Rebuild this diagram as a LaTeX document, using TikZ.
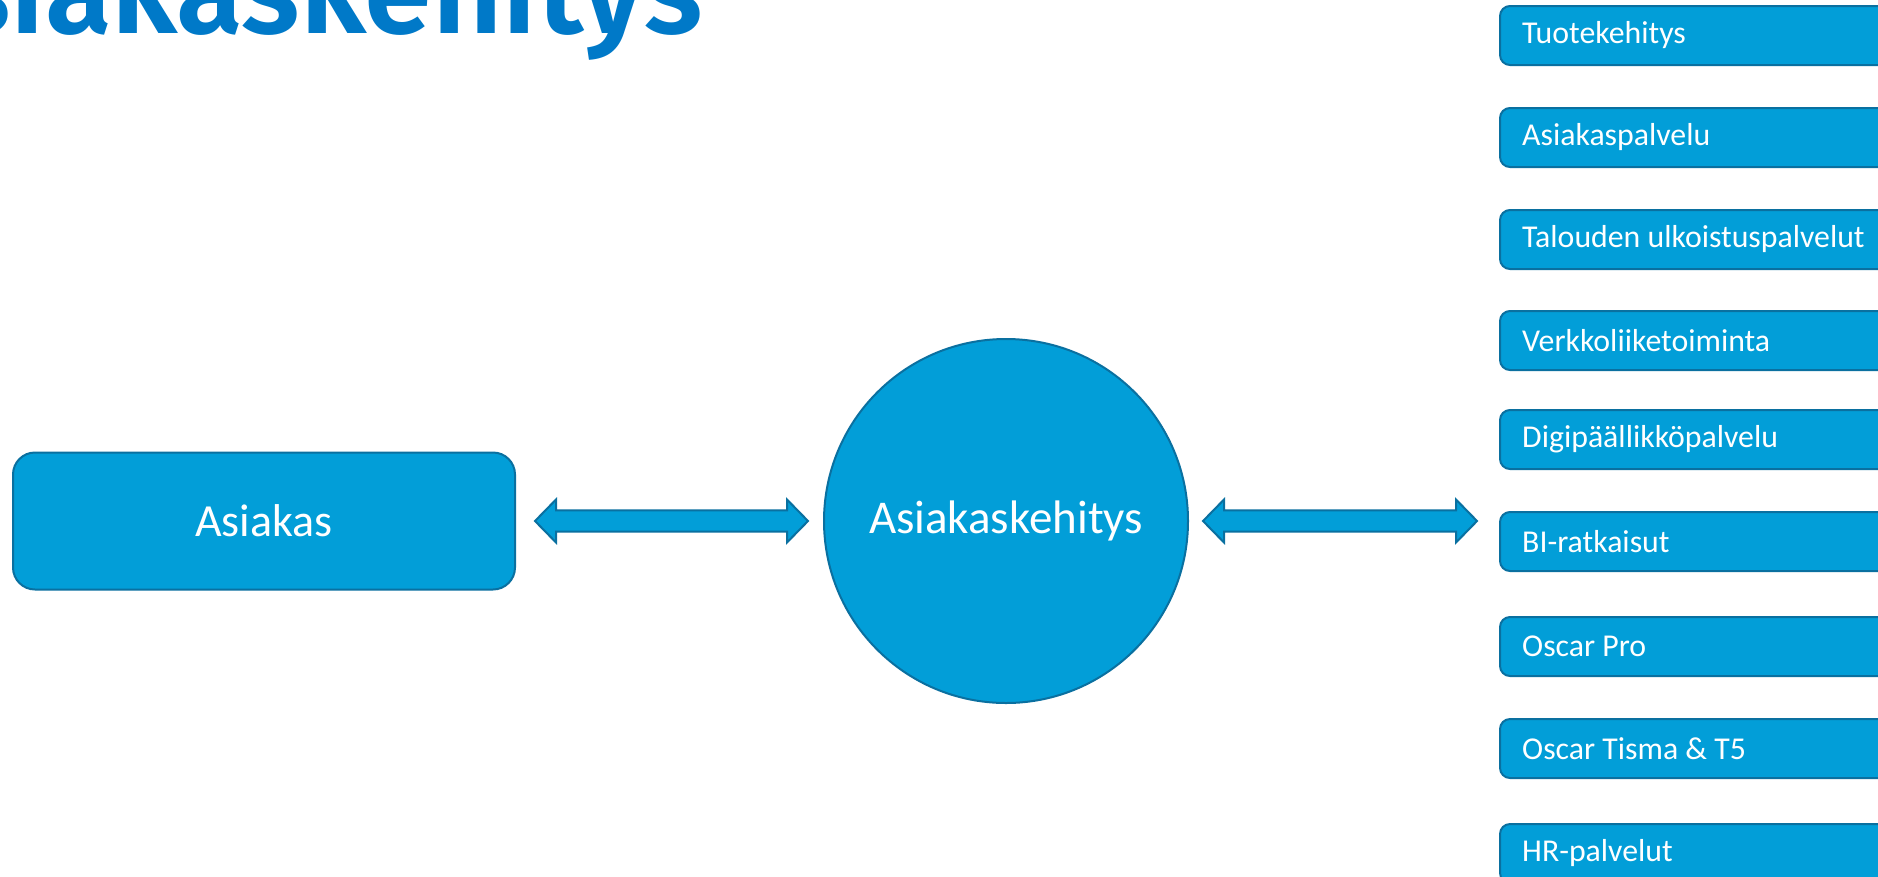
\documentclass[tikz,border=0pt]{standalone}
\usepackage{fontspec}
\setmainfont{Carlito}
\newfontfamily\titlefont{Fira Sans SemiBold}
\usetikzlibrary{calc}
\definecolor{boxfill}{RGB}{2,158,216}
\definecolor{boxline}{RGB}{10,112,160}
\definecolor{titleblue}{RGB}{0,121,200}
\tikzset{
  box/.style={draw=boxline, line width=2pt, fill=boxfill},
  bigbox/.style={box, rounded corners=22pt, minimum width=502pt, minimum height=137pt, inner sep=0pt, text=white, font=\fontsize{46}{55}\selectfont},
  circ/.style={box, circle, minimum size=364pt, inner sep=0pt, text=white, font=\fontsize{47}{56}\selectfont},
  svcbox/.style={box, rounded corners=10pt, minimum width=420pt, minimum height=59pt, inner sep=0pt, anchor=north west},
  svctext/.style={text=white, font=\fontsize{31.8}{38}\selectfont, anchor=west, inner sep=0pt},
  arrowsty/.style={draw=boxline, line width=2pt, fill=boxfill, line join=miter}
}
\newcommand\dblarrow[2]{%
  \draw[arrowsty] (#1) -- ($(#1)+(21,-21.5)$) -- ($(#1)+(21,-10.7)$) -- ($(#2)+(-21,-10.7)$) -- ($(#2)+(-21,-21.5)$) -- (#2) -- ($(#2)+(-21,21.5)$) -- ($(#2)+(-21,10.7)$) -- ($(#1)+(21,10.7)$) -- ($(#1)+(21,21.5)$) -- cycle;%
}
\begin{document}
\begin{tikzpicture}[x=1pt,y=-1pt]
\useasboundingbox (0,0) rectangle (1878,876);
\clip (0,0) rectangle (1878,876);
\fill[white] (0,0) rectangle (1878,876);
% title
\node[anchor=base east, inner sep=0pt, text=titleblue, font=\titlefont\fontsize{122}{140}\selectfont] (title) at (703,33) {Asiakaskehitys};
% main nodes
\node[bigbox] (asiakas) at (264,521) {Asiakas};
\node[circ] (kehitys) at (1006,521) {Asiakaskehitys};
% arrows
\coordinate (a1) at (535,521);
\coordinate (a2) at (808,521);
\coordinate (b1) at (1203,521);
\coordinate (b2) at (1477,521);
\dblarrow{a1}{a2}
\dblarrow{b1}{b2}
% service boxes
\foreach \t/\lab/\nm in {5/Tuotekehitys/s1, 107/Asiakaspalvelu/s2, 209/Talouden ulkoistuspalvelut/s3, 310/Verkkoliiketoiminta/s4, 409/Digipäällikköpalvelu/s5, 511/BI-ratkaisut/s6, 616/Oscar Pro/s7, 718/Oscar Tisma \& T5/s8, 823/HR-palvelut/s9}{
  \node[svcbox] (\nm) at (1499,\t) {};
  \node[svctext] (\nm t) at ($(\nm.west)+(23,0)$) {\lab};
}
\end{tikzpicture}
\end{document}
